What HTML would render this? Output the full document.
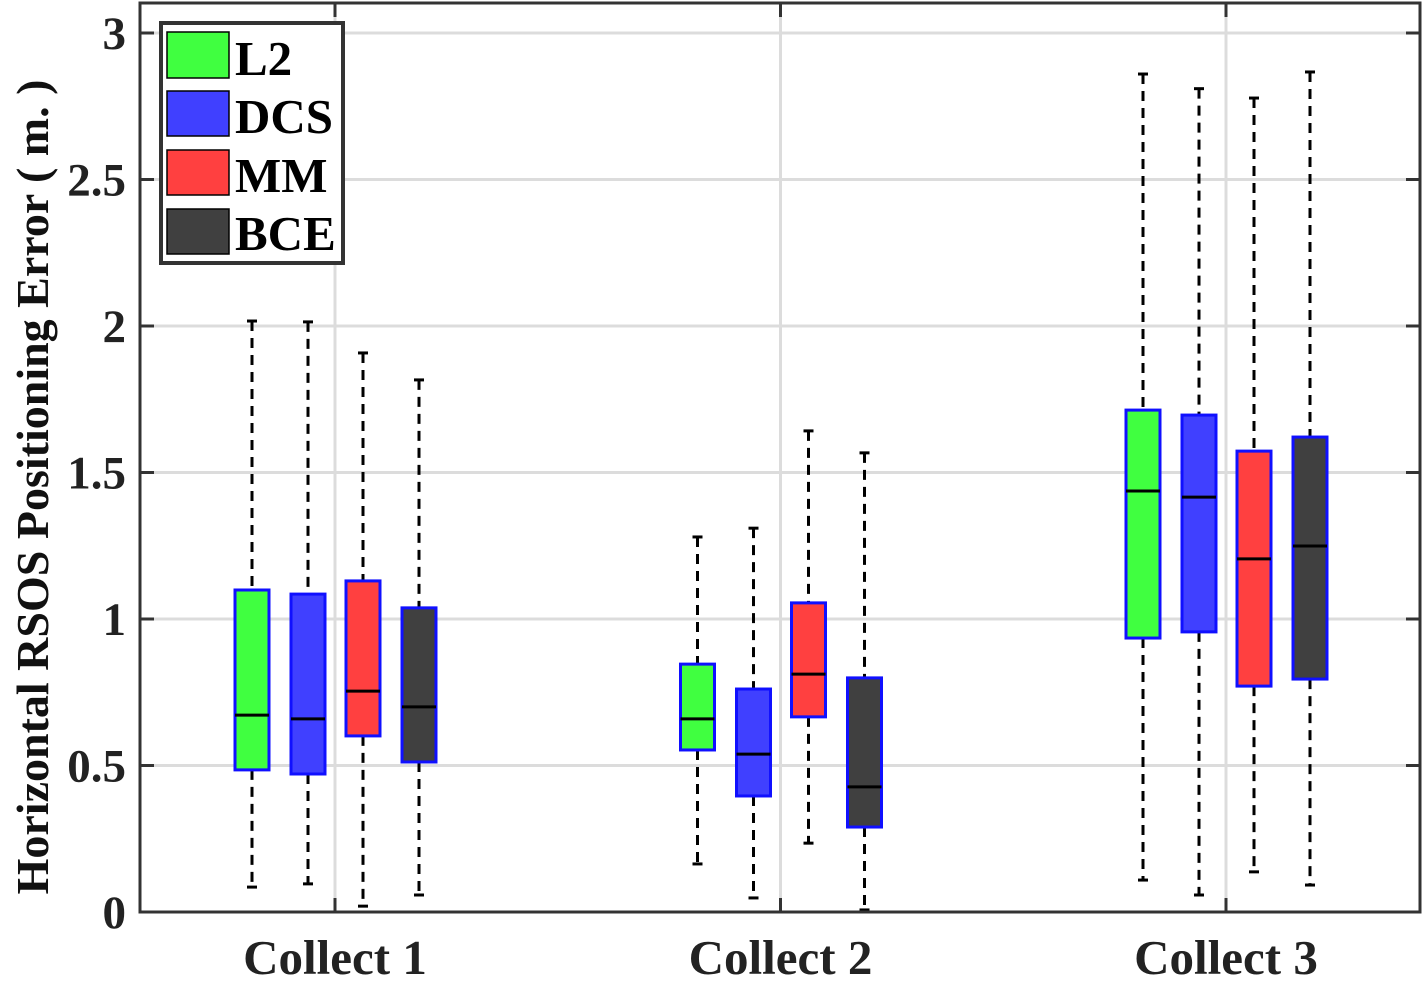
<!DOCTYPE html>
<html><head><meta charset="utf-8"><style>
html,body{margin:0;padding:0;background:#fff;}
svg{display:block;font-family:"Liberation Serif",serif;font-weight:bold;}
</style></head><body>
<svg id="chart" width="1422" height="984" viewBox="0 0 1422 984">
<g id="grid"></g><g id="boxes"></g><g id="axes"></g>
<text transform="translate(48,487) rotate(-90)" text-anchor="middle" font-size="46" fill="#111">Horizontal RSOS Positioning Error ( m. )</text>
<g>
<rect x="161" y="23" width="182" height="240" fill="#fff" stroke="#333" stroke-width="4"/>
<rect x="167" y="32" width="62" height="46" fill="#40ff40" stroke="#000" stroke-width="1.5"/>
<text x="235" y="75" font-size="49">L2</text>
<rect x="167" y="91" width="62" height="45" fill="#4040ff" stroke="#000" stroke-width="1.5"/>
<text x="235" y="133" font-size="49">DCS</text>
<rect x="167" y="150" width="62" height="45" fill="#ff4040" stroke="#000" stroke-width="1.5"/>
<text x="235" y="192" font-size="49">MM</text>
<rect x="167" y="209" width="62" height="45" fill="#404040" stroke="#000" stroke-width="1.5"/>
<text x="235" y="250" font-size="49">BCE</text>
</g>
</svg>
<script>
const categories=["Collect 1","Collect 2","Collect 3"];
const seriesNames=["L2","DCS","MM","BCE"];
const whiskerHigh=[[2.017,2.014,1.908,1.816],[1.28,1.31,1.642,1.567],[2.86,2.81,2.778,2.867]];
const q3=[[1.099,1.085,1.13,1.038],[0.846,0.761,1.055,0.799],[1.713,1.696,1.573,1.621]];
const median=[[0.672,0.659,0.754,0.70],[0.659,0.539,0.812,0.427],[1.437,1.416,1.205,1.249]];
const q1=[[0.485,0.471,0.601,0.512],[0.553,0.396,0.666,0.29],[0.935,0.956,0.771,0.795]];
const whiskerLow=[[0.085,0.096,0.02,0.058],[0.164,0.048,0.235,0.007],[0.109,0.058,0.137,0.092]];
const yTicks=[0,0.5,1,1.5,2,2.5,3];
const yTickLabels=["0","0.5","1","1.5","2","2.5","3"];
const fills=["#40ff40","#4040ff","#ff4040","#404040"];
const NS="http://www.w3.org/2000/svg";
const L=140,R=1420,T=3,B=912;
const y=v=>912-v*293;
const x=i=>335+i*445.5;
const off=[-83,-27,28,84];
function mk(tag,attrs,parent){const e=document.createElementNS(NS,tag);for(const k in attrs)e.setAttribute(k,attrs[k]);parent.appendChild(e);return e;}
const grid=document.getElementById('grid'),boxes=document.getElementById('boxes'),axes=document.getElementById('axes');
yTicks.forEach((t,i)=>{
 const g=mk('line',{x1:L,x2:R,y1:y(t),y2:y(t),stroke:'#dcdcdc','stroke-width':3},grid);
 
 
 mk('line',{x1:L,x2:L+14,y1:y(t),y2:y(t),stroke:'#333','stroke-width':3},axes);
 mk('line',{x1:R-14,x2:R,y1:y(t),y2:y(t),stroke:'#333','stroke-width':3},axes);
 const tl=mk('text',{x:126,y:y(t)+16,'text-anchor':'end','font-size':47,fill:'#222'},axes);
 tl.textContent=yTickLabels[i];
 
 
});
categories.forEach((c,ci)=>{
 const g=mk('line',{x1:x(ci),x2:x(ci),y1:T,y2:B,stroke:'#dcdcdc','stroke-width':3},grid);
 
 
 mk('line',{x1:x(ci),x2:x(ci),y1:B-14,y2:B,stroke:'#333','stroke-width':3},axes);
 mk('line',{x1:x(ci),x2:x(ci),y1:T,y2:T+14,stroke:'#333','stroke-width':3},axes);
 const tl=mk('text',{x:x(ci),y:974,'text-anchor':'middle','font-size':49,fill:'#222'},axes);
 tl.textContent=c;
 
 
 seriesNames.forEach((s,si)=>{
  const cx=x(ci)+off[si];
  const g=mk('g',{},boxes);
  
  
  mk('line',{x1:cx,x2:cx,y1:y(whiskerHigh[ci][si]),y2:y(q3[ci][si]),stroke:'#000','stroke-width':3,'stroke-dasharray':'10,7'},g);
  mk('line',{x1:cx,x2:cx,y1:y(q1[ci][si]),y2:y(whiskerLow[ci][si]),stroke:'#000','stroke-width':3,'stroke-dasharray':'10,7'},g);
  mk('line',{x1:cx-5,x2:cx+5,y1:y(whiskerHigh[ci][si]),y2:y(whiskerHigh[ci][si]),stroke:'#000','stroke-width':3},g);
  mk('line',{x1:cx-5,x2:cx+5,y1:y(whiskerLow[ci][si]),y2:y(whiskerLow[ci][si]),stroke:'#000','stroke-width':3},g);
  mk('rect',{x:cx-17,y:y(q3[ci][si]),width:34,height:y(q1[ci][si])-y(q3[ci][si]),fill:fills[si],stroke:'#1010ff','stroke-width':3},g);
  mk('line',{x1:cx-17,x2:cx+17,y1:y(median[ci][si]),y2:y(median[ci][si]),stroke:'#000','stroke-width':3},g);
 });
});
mk('rect',{x:L,y:T,width:R-L,height:B-T,fill:'none',stroke:'#333','stroke-width':3},axes);
</script>
</body></html>
